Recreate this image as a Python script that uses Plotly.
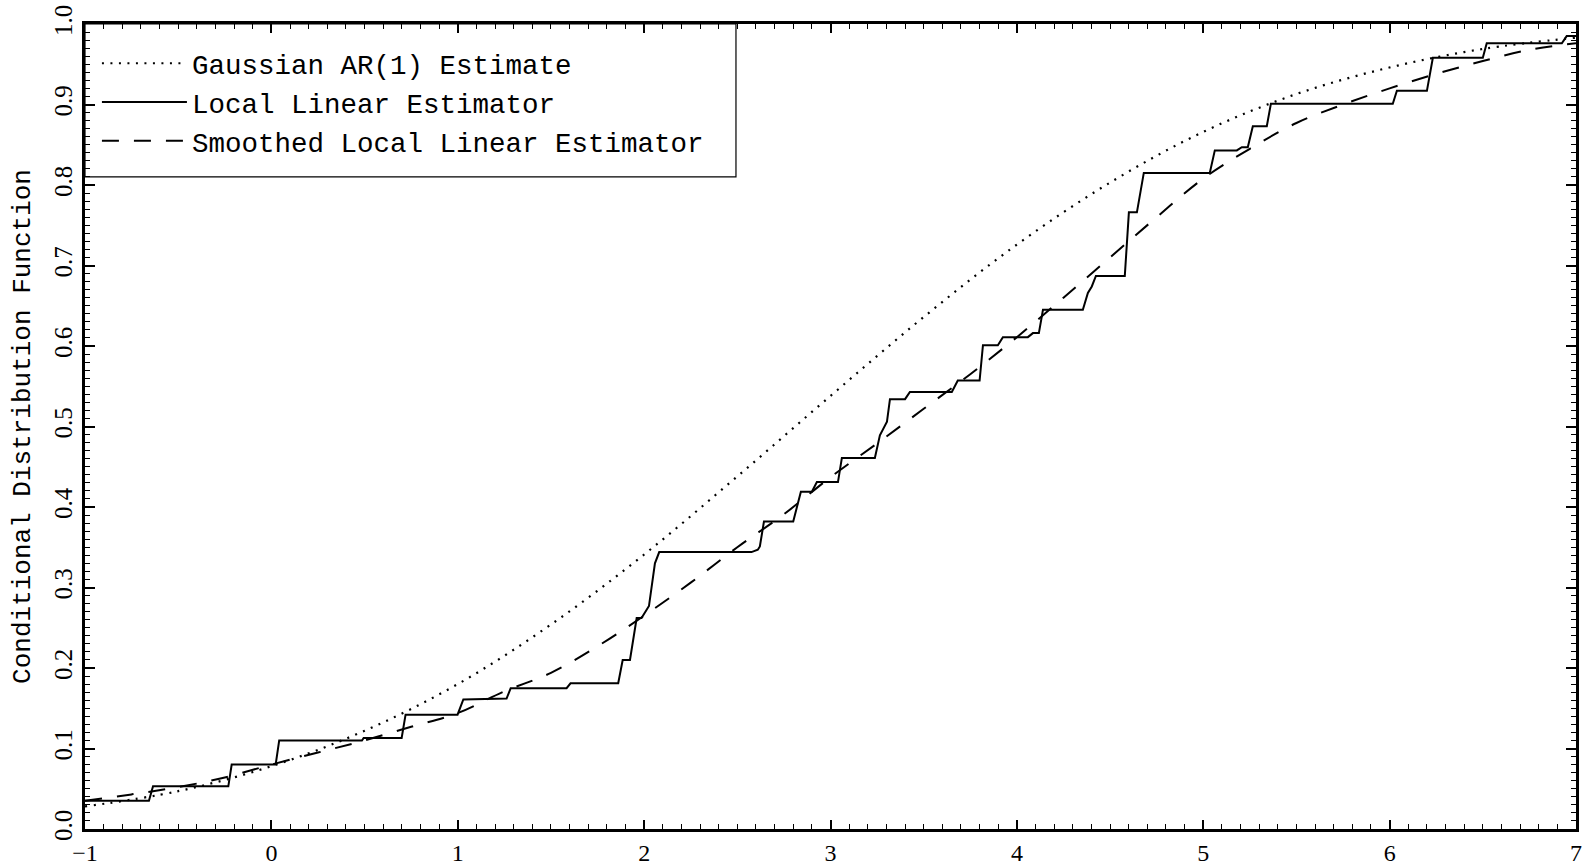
import plotly.graph_objects as go

# Gaussian AR(1) estimate (dotted)
gauss_x = [-1.0, -0.5, 0.0, 0.5, 1.0, 1.5, 2.0, 2.5, 3.0, 3.5, 4.0, 4.5, 5.0, 5.5, 6.0, 6.5, 7.0]
gauss_y = [0.028, 0.047, 0.078, 0.122, 0.180, 0.254, 0.341, 0.438, 0.538, 0.636, 0.726, 0.803, 0.866, 0.913, 0.946, 0.969, 0.983]

# Local linear estimator (solid, step-like)
local_x = [-1.0, -0.657, -0.635, -0.231, -0.213, 0.023, 0.042, 0.486, 0.495, 0.699,
           0.720, 0.999, 1.030, 1.262, 1.284, 1.584, 1.605, 1.861, 1.885, 1.924,
           1.960, 1.986, 2.026, 2.058, 2.081, 2.576, 2.610, 2.621, 2.643, 2.800,
           2.841, 2.900, 2.927, 3.040, 3.061, 3.238, 3.265, 3.303, 3.319, 3.400,
           3.426, 3.651, 3.683, 3.800, 3.818, 3.898, 3.925, 4.059, 4.086, 4.118,
           4.140, 4.354, 4.381, 4.402, 4.424, 4.579, 4.601, 4.644, 4.681, 5.035,
           5.062, 5.180, 5.207, 5.239, 5.266, 5.341, 5.363, 6.017, 6.039, 6.200,
           6.232, 6.500, 6.521, 6.924, 6.950, 7.0]
local_y = [0.035, 0.035, 0.053, 0.053, 0.080, 0.080, 0.110, 0.110, 0.113, 0.113,
           0.142, 0.142, 0.161, 0.162, 0.175, 0.175, 0.181, 0.181, 0.210, 0.210,
           0.262, 0.262, 0.277, 0.330, 0.344, 0.344, 0.347, 0.351, 0.382, 0.382,
           0.419, 0.419, 0.431, 0.431, 0.461, 0.461, 0.489, 0.506, 0.534, 0.534,
           0.543, 0.543, 0.557, 0.557, 0.601, 0.601, 0.611, 0.611, 0.616, 0.616,
           0.645, 0.645, 0.666, 0.674, 0.687, 0.687, 0.766, 0.766, 0.815, 0.815,
           0.843, 0.843, 0.847, 0.847, 0.873, 0.873, 0.901, 0.901, 0.917, 0.917,
           0.958, 0.958, 0.976, 0.976, 0.985, 0.985]

# Smoothed local linear estimator (dashed)
smooth_x = [-1.0, -0.75, -0.5, -0.25, 0.0, 0.25, 0.5, 0.75, 1.0, 1.25, 1.5, 1.75, 2.0,
            2.25, 2.5, 2.75, 3.0, 3.25, 3.5, 3.75, 4.0, 4.25, 4.5, 4.75, 5.0, 5.25,
            5.5, 5.75, 6.0, 6.25, 6.5, 6.75, 7.0]
smooth_y = [0.035, 0.043, 0.052, 0.064, 0.080, 0.095, 0.110, 0.127, 0.144, 0.171, 0.194,
            0.227, 0.265, 0.306, 0.350, 0.391, 0.437, 0.479, 0.522, 0.565, 0.611, 0.660,
            0.710, 0.760, 0.808, 0.845, 0.877, 0.900, 0.920, 0.938, 0.954, 0.968, 0.976]

names = ["Gaussian AR(1) Estimate", "Local Linear Estimator", "Smoothed Local Linear Estimator"]
x_ticks = [-1, 0, 1, 2, 3, 4, 5, 6, 7]
y_ticks = [0.0, 0.1, 0.2, 0.3, 0.4, 0.5, 0.6, 0.7, 0.8, 0.9, 1.0]

fig = go.Figure()
fig.add_trace(go.Scatter(x=gauss_x, y=gauss_y, mode="lines", name=names[0],
                         line=dict(color="black", width=2.2, dash="2px,6.5px", shape="spline")))
fig.add_trace(go.Scatter(x=local_x, y=local_y, mode="lines", name=names[1],
                         line=dict(color="black", width=2)))
fig.add_trace(go.Scatter(x=smooth_x, y=smooth_y, mode="lines", name=names[2],
                         line=dict(color="black", width=2, dash="17px,15px", shape="spline")))

axis_common = dict(showline=True, linewidth=3, linecolor="black", mirror="allticks",
                   ticks="inside", tickcolor="black", tickwidth=1.6, showgrid=False,
                   zeroline=False, automargin=False)

fig.update_xaxes(range=[-1, 7], tickvals=x_ticks, ticklen=9,
                 tickfont=dict(family="Liberation Serif", size=24, color="black"),
                 minor=dict(dtick=0.1, ticks="inside", ticklen=5, tickwidth=1.4, tickcolor="black", showgrid=False),
                 **axis_common)
fig.update_yaxes(range=[0, 1], tickvals=y_ticks, tickformat=".1f", ticklen=10, tickangle=-90,
                 tickfont=dict(family="Liberation Serif", size=25, color="black"),
                 minor=dict(dtick=0.01, ticks="inside", ticklen=5, tickwidth=1.4, tickcolor="black", showgrid=False),
                 title=dict(text="Conditional Distribution Function",
                            font=dict(family="Liberation Mono", size=26, color="black"), standoff=12),
                 **axis_common)

fig.update_layout(
    width=1588, height=867,
    margin=dict(l=85, r=12, t=24, b=38),
    plot_bgcolor="white", paper_bgcolor="white",
    legend=dict(x=0.008, y=0.9815, xanchor="left", yanchor="top",
                bgcolor="rgba(0,0,0,0)", borderwidth=0,
                font=dict(family="Liberation Mono", size=27.5, color="black"),
                itemwidth=85, tracegroupgap=0),
    shapes=[dict(type="rect", xref="paper", yref="paper", x0=0, x1=0.4366, y0=0.81, y1=1,
                 line=dict(color="black", width=1.2), fillcolor="rgba(0,0,0,0)")],
)

fig.write_html("out.html", config={"displayModeBar": False},
               post_script="document.body.style.margin='0';document.body.style.overflow='hidden';")
